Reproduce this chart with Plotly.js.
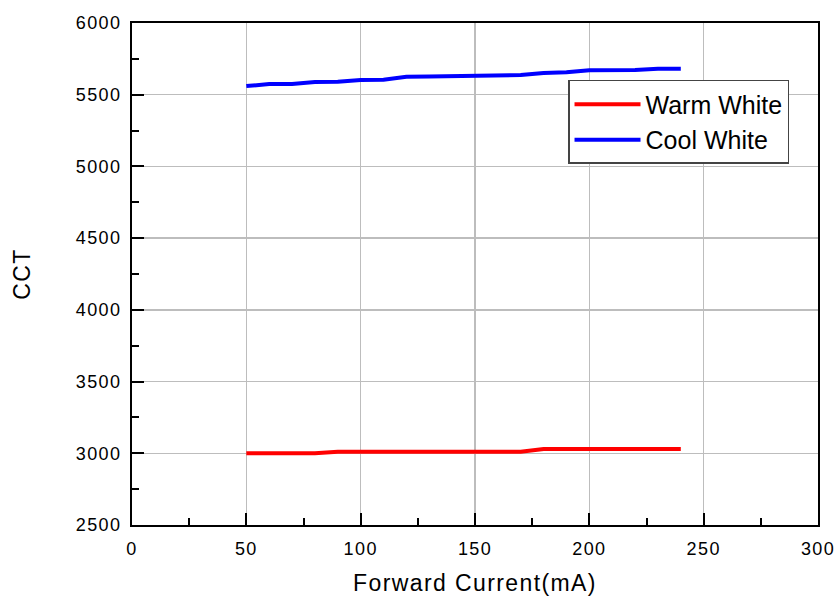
<!DOCTYPE html>
<html>
<head>
<meta charset="utf-8">
<script src="https://cdn.plot.ly/plotly-3.0.1.min.js"></script>
<style>
html,body{margin:0;padding:0;background:#fff;}
#chart{width:838px;height:599px;}
#chart svg .xtick text, #chart svg .ytick text, #chart svg .g-xtitle text, #chart svg .g-ytitle text{letter-spacing:1.4px;}
</style>
</head>
<body>
<div id="chart"></div>
<script>
var currents = [50,60,70,80,90,100,110,120,130,140,150,160,170,180,190,200,210,220,230,240];
var warmWhite = [3000,3000,3000,3000,3010,3010,3010,3010,3010,3010,3010,3010,3010,3030,3030,3030,3030,3030,3030,3030];
var coolWhite = [5560,5575,5575,5588,5590,5603,5605,5625,5627,5630,5632,5633,5637,5652,5657,5670,5671,5673,5681,5681];
var seriesNames = ['Warm White','Cool White'];

var traces = [
  {x: currents, y: warmWhite, name: seriesNames[0], type: 'scatter', mode: 'lines',
   line: {color: '#ff0000', width: 4}},
  {x: currents, y: coolWhite, name: seriesNames[1], type: 'scatter', mode: 'lines',
   line: {color: '#0000ff', width: 4}}
];

var FONT = 'Liberation Sans, Arial, sans-serif';
var axisCommon = {
  showline: true, linecolor: '#000', linewidth: 2, mirror: true,
  ticks: 'inside', ticklen: 12, tickwidth: 2, tickcolor: '#000',
  showgrid: true, gridcolor: '#bdbdbd', gridwidth: 1.5,
  zeroline: false,
  tickfont: {family: FONT, size: 18, color: '#000'}
};

var layout = {
  width: 838, height: 599,
  margin: {l: 132, r: 20, t: 23, b: 74},
  paper_bgcolor: '#fff', plot_bgcolor: '#fff',
  showlegend: true,
  xaxis: Object.assign({}, axisCommon, {
    range: [0, 300], dtick: 50, tick0: 0,
    ticklabelstandoff: 6,
    minor: {dtick: 25, ticks: 'inside', ticklen: 7, tickwidth: 2, tickcolor: '#000', showgrid: false},
    title: {text: 'Forward Current(mA)', standoff: 17,
            font: {family: FONT, size: 23, color: '#000'}}
  }),
  yaxis: Object.assign({}, axisCommon, {
    range: [2500, 6000], dtick: 500, tick0: 2500,
    ticklabelstandoff: 5,
    minor: {dtick: 250, ticks: 'inside', ticklen: 7, tickwidth: 2, tickcolor: '#000', showgrid: false},
    title: {text: 'CCT', standoff: 44,
            font: {family: FONT, size: 23, color: '#000'}}
  }),
  legend: {
    x: 0.6356, y: 0.8865, xanchor: 'left', yanchor: 'top',
    bgcolor: '#fff', bordercolor: '#444', borderwidth: 1.5,
    font: {family: FONT, size: 25, color: '#000'},
    tracegroupgap: 0, itemwidth: 66
  }
};

Plotly.newPlot('chart', traces, layout, {displayModeBar: false, staticPlot: true});
</script>
</body>
</html>
